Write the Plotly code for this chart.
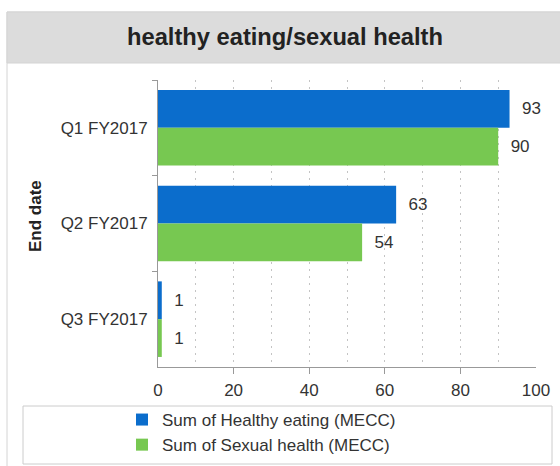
import plotly.graph_objects as go

categories = ["Q1 FY2017", "Q2 FY2017", "Q3 FY2017"]
healthy_eating = [93, 63, 1]
sexual_health = [90, 54, 1]
series_names = ["Sum of Healthy eating (MECC)", "Sum of Sexual health (MECC)"]
x_labelled_ticks = [0, 20, 40, 60, 80, 100]
x_grid_vals = [0, 10, 20, 30, 40, 50, 60, 70, 80, 90, 100]
x_grid_text = [str(v) if v in x_labelled_ticks else "" for v in x_grid_vals]

FONT = "Liberation Sans, Arial, sans-serif"
W, H = 560, 466
L, R, T, B = 158, 24, 80, 99
PW, PH = W - L - R, H - T - B


def px(x):
    return (x - L) / PW


def py(y):
    return (H - B - y) / PH


label_font = dict(size=17, color="#333333", family=FONT)

fig = go.Figure()
fig.add_trace(go.Bar(
    y=categories, x=healthy_eating, orientation="h", name=series_names[0],
    marker=dict(color="#0b6dcc", line=dict(width=0)),
    text=[f"  {v}" for v in healthy_eating], textposition="outside", cliponaxis=False,
    textfont=label_font, outsidetextfont=label_font, constraintext="none",
))
fig.add_trace(go.Bar(
    y=categories, x=sexual_health, orientation="h", name=series_names[1],
    marker=dict(color="#77c851", line=dict(width=0)),
    text=[f"  {v}" for v in sexual_health], textposition="outside", cliponaxis=False,
    textfont=label_font, outsidetextfont=label_font, constraintext="none",
))

shapes = [
    # outer frame
    dict(type="rect", xref="paper", yref="paper", x0=px(7), x1=px(580), y0=py(490), y1=py(12),
         line=dict(color="#d4d4d4", width=1), fillcolor="rgba(0,0,0,0)", layer="below"),
    # title band
    dict(type="rect", xref="paper", yref="paper", x0=px(7), x1=px(580), y0=py(63), y1=py(12),
         line=dict(color="#d4d4d4", width=1), fillcolor="#dcdcdc", layer="below"),
    # legend box
    dict(type="rect", xref="paper", yref="paper", x0=px(23), x1=px(552), y0=py(464), y1=py(406),
         line=dict(color="#cccccc", width=1), fillcolor="rgba(0,0,0,0)", layer="below"),
]

fig.update_layout(
    width=W, height=H, autosize=False,
    margin=dict(l=L, r=R, t=T, b=B, pad=0, autoexpand=False),
    paper_bgcolor="white", plot_bgcolor="white",
    font=dict(family=FONT, size=17, color="#333333"),
    barmode="group", bargap=0.21, bargroupgap=0,
    title=dict(text="<b>healthy eating/sexual health</b>", x=285 / W, y=1 - 37 / H,
               xanchor="center", yanchor="middle", xref="container", yref="container",
               font=dict(size=23.7, color="#222222", family=FONT)),
    showlegend=True,
    legend=dict(x=122 / W, y=1 - 402 / H, xref="container", yref="container",
                xanchor="left", yanchor="top",
                bgcolor="rgba(0,0,0,0)", borderwidth=0,
                font=dict(size=17, color="#333333", family=FONT),
                traceorder="normal"),
    shapes=shapes,
    annotations=[dict(text="<b>End date</b>", xref="paper", yref="paper",
                      x=px(35), y=py(216), textangle=-90, showarrow=False,
                      xanchor="center", yanchor="middle",
                      font=dict(size=17, color="#222222", family=FONT))],
    xaxis=dict(range=[0, 100], tickmode="array", tickvals=x_grid_vals, ticktext=x_grid_text,
               ticks="inside", ticklen=0, ticklabelstandoff=8,
               showline=True, linecolor="#999999", linewidth=1,
               showgrid=True, gridcolor="#c4c4c4", gridwidth=1, griddash="2px,5px",
               zeroline=False, automargin=False,
               minor=dict(tickmode="array", tickvals=x_labelled_ticks, ticks="outside",
                          ticklen=6, tickcolor="#999999", showgrid=False),
               tickfont=dict(size=17, color="#333333", family=FONT), fixedrange=True),
    yaxis=dict(type="category", categoryorder="array", categoryarray=categories,
               autorange="reversed", tickson="boundaries", ticks="outside", ticklen=5,
               tickcolor="#999999", showline=True, linecolor="#999999", linewidth=1,
               showgrid=False, zeroline=False, automargin=False, ticklabelstandoff=6,
               tickfont=dict(size=17, color="#333333", family=FONT), fixedrange=True),
)

fig.write_html("out.html")
